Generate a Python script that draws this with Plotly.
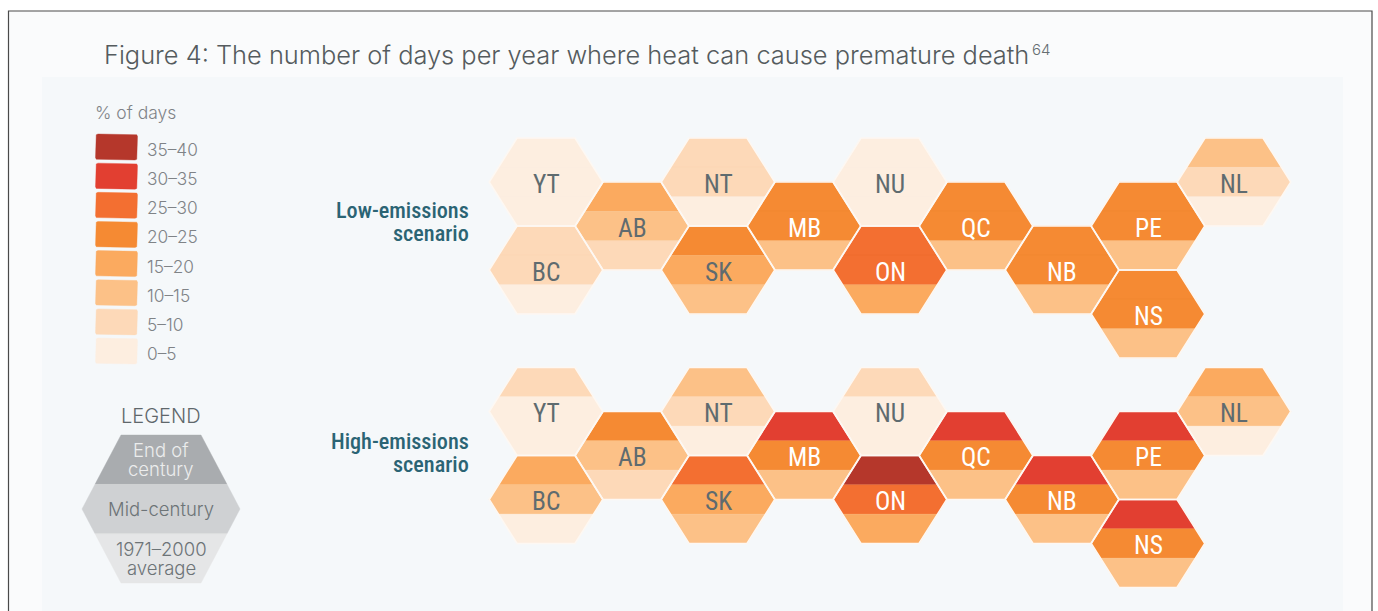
import plotly.graph_objects as go

# ---- data (lower bound of the % of days class) ----
provinces = ["YT", "BC", "AB", "NT", "SK", "MB", "NU", "ON", "QC", "NB", "PE", "NS", "NL"]
grid_col = [0, 0, 1, 2, 2, 3, 4, 4, 5, 6, 7, 7, 8]
grid_row = [0, 2, 1, 0, 2, 1, 0, 2, 1, 2, 1, 3, 0]

low_end = [0, 5, 15, 5, 20, 20, 0, 25, 20, 20, 20, 20, 10]
low_mid = [0, 5, 10, 5, 15, 20, 0, 25, 20, 20, 20, 20, 5]
low_base = [0, 0, 5, 0, 10, 10, 0, 15, 10, 10, 10, 10, 0]

high_end = [5, 15, 20, 10, 25, 30, 5, 35, 30, 30, 30, 30, 15]
high_mid = [0, 10, 10, 5, 15, 20, 0, 25, 20, 20, 20, 20, 10]
high_base = [0, 0, 5, 0, 10, 10, 0, 15, 10, 10, 10, 10, 0]

class_lows = [35, 30, 25, 20, 15, 10, 5, 0]
class_labels = ["35–40", "30–35", "25–30", "20–25", "15–20", "10–15", "5–10", "0–5"]
class_colors = ["#b5372b", "#e23f31", "#f36f31", "#f58a33", "#fbaa5f", "#fcc187", "#fdd9b8", "#fdeee0"]

key_labels = [["End of", "century"], ["Mid-century"], ["1971–2000", "average"]]
key_colors = ["#a9acaf", "#cfd1d3", "#e5e6e7"]
key_text = ["#eceded", "#6d7477", "#6d7477"]

title_text = "Figure 4: The number of days per year where heat can cause premature death"
title_note = "64"

# ---- layout constants (pixels, axes map 1:1 to the page) ----
X0, DX = 546, 86
HALF_W, HALF_TOP, HALF_H = 56.8, 29, 44
ROW_STEP = 44
LOW_Y, HIGH_Y = 182, 411.5
GREY, TEAL = "#5f6b6f", "#2b6474"
LABEL_FONT = "Roboto Condensed, DejaVu Sans Condensed, Roboto"
BODY_FONT = "Inter"


def half_width(dy, hw, ht, hh):
    return ht + (hw - ht) * (1 - abs(dy) / hh)


def band(cx, cy, i, hw=HALF_W, ht=HALF_TOP, hh=HALF_H):
    """Polygon of the i-th horizontal third (0 = top) of a flat-topped hexagon."""
    y0 = -hh + i * 2 * hh / 3
    y1 = y0 + 2 * hh / 3
    w0, w1 = half_width(y0, hw, ht, hh), half_width(y1, hw, ht, hh)
    xs = [cx - w0, cx + w0]
    ys = [cy + y0, cy + y0]
    if y0 < 0 < y1:
        xs.append(cx + hw)
        ys.append(cy)
    xs += [cx + w1, cx - w1]
    ys += [cy + y1, cy + y1]
    if y0 < 0 < y1:
        xs.append(cx - hw)
        ys.append(cy)
    xs.append(xs[0])
    ys.append(ys[0])
    return xs, ys


def outline(cx, cy, hw=HALF_W, ht=HALF_TOP, hh=HALF_H):
    return ([cx - ht, cx + ht, cx + hw, cx + ht, cx - ht, cx - hw, cx - ht],
            [cy - hh, cy - hh, cy, cy + hh, cy + hh, cy, cy - hh])


def rounded(x0, x1, y0, y1, r=2.5):
    k = r * 0.3
    xs = [x0 + r, x1 - r, x1 - k, x1, x1, x1 - k, x1 - r, x0 + r, x0 + k, x0, x0, x0 + k, x0 + r]
    ys = [y0, y0, y0 + k, y0 + r, y1 - r, y1 - k, y1, y1, y1 - k, y1 - r, y0 + r, y0 + k, y0]
    return xs, ys


fig = go.Figure()
polys = {c: ([], []) for c in class_lows}
edge_x, edge_y = [], []
annotations = []


def text(x, y, s, size, color, anchor="center", font=BODY_FONT, weight=None):
    annotations.append(dict(x=x, y=y, xref="x", yref="y", text=s, showarrow=False, xanchor=anchor,
                            yanchor="middle", borderpad=0, borderwidth=0,
                            font=dict(family=font, size=size, color=color, weight=weight)))


for base_y, series in ((LOW_Y, (low_end, low_mid, low_base)), (HIGH_Y, (high_end, high_mid, high_base))):
    for k, name in enumerate(provinces):
        cx = X0 + grid_col[k] * DX
        cy = base_y + grid_row[k] * ROW_STEP
        for i in range(3):
            xs, ys = band(cx, cy, i)
            polys[series[i][k]][0].extend(xs + [None])
            polys[series[i][k]][1].extend(ys + [None])
        ox, oy = outline(cx, cy)
        edge_x += ox + [None]
        edge_y += oy + [None]
        text(cx, cy + 1.5, name, 25.5, "#ffffff" if series[1][k] >= 20 else GREY, font=LABEL_FONT)

for low, label, color in zip(class_lows, class_labels, class_colors):
    fig.add_trace(go.Scatter(x=polys[low][0], y=polys[low][1], mode="lines", fill="toself", fillcolor=color,
                             line=dict(color=color, width=0.4), name=label, hoverinfo="skip"))
fig.add_trace(go.Scatter(x=edge_x, y=edge_y, mode="lines", line=dict(color="#fdf8f3", width=1.6),
                         hoverinfo="skip", showlegend=False))

# swatches
for i, (label, color) in enumerate(zip(class_labels, class_colors)):
    y = 147 + i * 29.15
    xs, ys = rounded(95.5, 137.5, y - 13, y + 13)
    fig.add_trace(go.Scatter(x=xs, y=ys, mode="lines", fill="toself", fillcolor=color,
                             line=dict(color=color, width=0.4), hoverinfo="skip", showlegend=False))
    text(147, y + 2.5, label, 17.3, "#7f8387", anchor="left", weight=300)

# key hexagon
KEY_X, KEY_Y = 161, 509
for i in range(3):
    xs, ys = band(KEY_X, KEY_Y, i, hw=79, ht=40, hh=74)
    fig.add_trace(go.Scatter(x=xs, y=ys, mode="lines", fill="toself", fillcolor=key_colors[i],
                             line=dict(color=key_colors[i], width=0.4), hoverinfo="skip", showlegend=False))
for i, lines in enumerate(key_labels):
    for j, s in enumerate(lines):
        offset = (j - (len(lines) - 1) / 2) * 19.5
        text(KEY_X, KEY_Y - 49.5 + i * 49.5 + offset, s, 18.5, key_text[i], weight=300)

text(95, 112, "% of days", 17.5, "#7f8387", anchor="left", weight=300)
text(161, 416, "LEGEND", 20, "#5f676b", weight=300)
for y, s in ((210, "Low-emissions"), (233, "scenario"), (441, "High-emissions"), (464, "scenario")):
    text(469, y, s, 22.2, TEAL, anchor="right", font=LABEL_FONT, weight=500)
text(104, 54.5, title_text, 25.4, "#555b5e", anchor="left", font="Inter", weight=300)
text(1032, 49, title_note, 15, "#666e72", anchor="left", font="Inter", weight=300)

axis = dict(visible=False, fixedrange=True)
fig.update_layout(
    width=1378, height=611, autosize=False, margin=dict(l=0, r=0, t=0, b=0),
    paper_bgcolor="#ffffff", plot_bgcolor="#ffffff", showlegend=False,
    xaxis=dict(range=[0, 1378], **axis), yaxis=dict(range=[611, 0], **axis),
    annotations=annotations,
    shapes=[
        dict(type="rect", xref="x", yref="y", x0=8.5, x1=1372, y0=11, y1=640, layer="below",
             fillcolor="#fafbfc", line=dict(color="#4a4a4a", width=1.2)),
        dict(type="rect", xref="x", yref="y", x0=42, x1=1343, y0=77, y1=640, layer="below",
             fillcolor="#f5f8fa", line=dict(width=0)),
    ],
)
fig.write_html("out.html", config={"displayModeBar": False},
               post_script="document.body.style.margin='0';document.body.style.overflow='hidden';")
